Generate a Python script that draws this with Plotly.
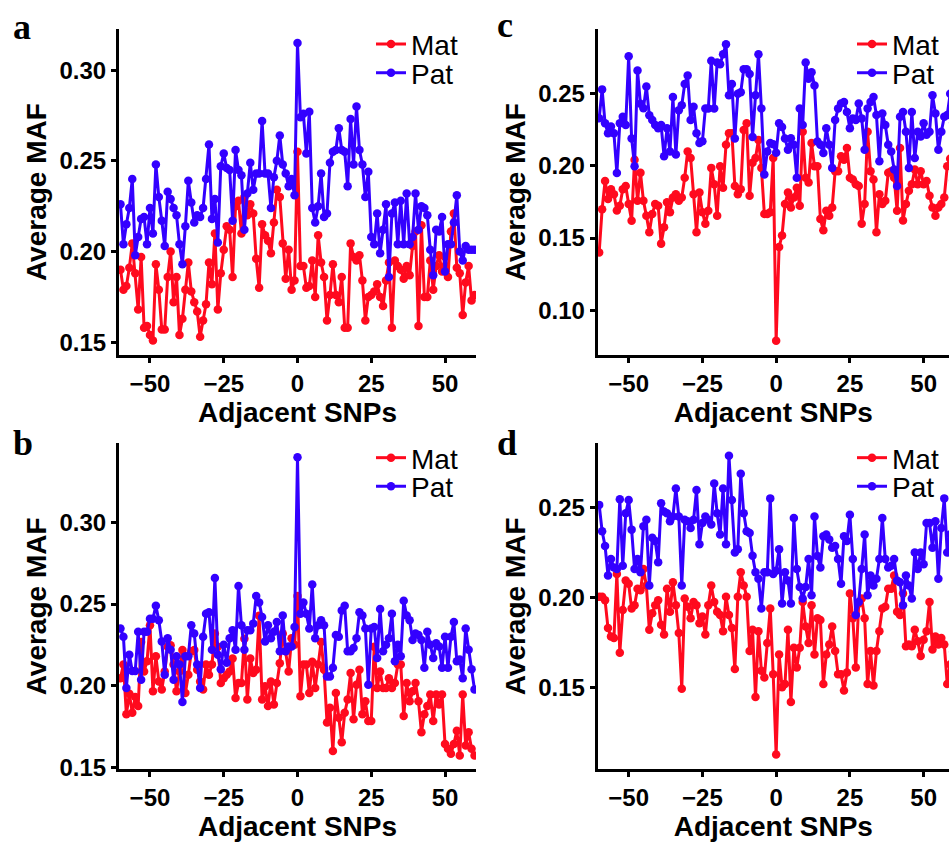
import plotly.graph_objects as go

# adjacent SNP offsets shared by every panel
snp = list(range(-60, 61))

# panel a
a_mat = [0.190, 0.179, 0.181, 0.191, 0.2045, 0.188, 0.168, 0.197, 0.158, 0.159,
         0.154, 0.151, 0.193, 0.179, 0.157, 0.157, 0.186, 0.200, 0.172, 0.186,
         0.154, 0.163, 0.179, 0.194, 0.178, 0.172, 0.167, 0.153, 0.162, 0.171,
         0.194, 0.182, 0.210, 0.168, 0.188, 0.201, 0.214, 0.212, 0.186, 0.225,
         0.228, 0.210, 0.230, 0.220, 0.226, 0.221, 0.196, 0.180, 0.215, 0.209,
         0.206, 0.199, 0.216, 0.234, 0.230, 0.2045, 0.185, 0.201, 0.179, 0.184,
         0.255,
         0.192, 0.192, 0.180, 0.181, 0.195, 0.175, 0.209, 0.194, 0.186, 0.162,
         0.176, 0.193, 0.176, 0.172, 0.186, 0.158, 0.158, 0.2045, 0.197, 0.195,
         0.198, 0.184, 0.162, 0.175, 0.176, 0.178, 0.182, 0.175, 0.170, 0.184,
         0.194, 0.158, 0.195, 0.192, 0.190, 0.185, 0.192, 0.187, 0.203, 0.211,
         0.159, 0.2145, 0.175, 0.175, 0.195, 0.179, 0.192, 0.198, 0.189, 0.197,
         0.186, 0.211, 0.221, 0.191, 0.188, 0.165, 0.183, 0.192, 0.173, 0.176]
a_pat = [0.226, 0.204, 0.215, 0.224, 0.240, 0.198, 0.208, 0.218, 0.219, 0.204,
         0.224, 0.210, 0.248, 0.230, 0.217, 0.203, 0.233, 0.229, 0.224, 0.220,
         0.204, 0.193, 0.214, 0.239, 0.227, 0.216, 0.220, 0.219, 0.224, 0.240,
         0.259, 0.218, 0.229, 0.205, 0.247, 0.254, 0.246, 0.245, 0.217, 0.256,
         0.245, 0.242, 0.212, 0.232, 0.249, 0.234, 0.243, 0.243, 0.272, 0.243,
         0.243, 0.224, 0.241, 0.250, 0.264, 0.248, 0.243, 0.236, 0.240, 0.231,
         0.315,
         0.274, 0.276, 0.254, 0.277, 0.224, 0.216, 0.225, 0.243, 0.219, 0.221,
         0.249, 0.255, 0.256, 0.268, 0.256, 0.255, 0.236, 0.273, 0.248, 0.280,
         0.256, 0.248, 0.230, 0.244, 0.208, 0.204, 0.221, 0.199, 0.212, 0.226,
         0.186, 0.221, 0.227, 0.204, 0.228, 0.204, 0.232, 0.204, 0.208, 0.232,
         0.212, 0.225, 0.224, 0.220, 0.201, 0.187, 0.212, 0.211, 0.219, 0.189,
         0.204, 0.204, 0.216, 0.231, 0.200, 0.195, 0.203, 0.201, 0.201, 0.201]

# panel b
b_mat = [0.2046, 0.213, 0.1824, 0.195, 0.1834, 0.193, 0.1875, 0.2268, 0.2087, 0.215,
         0.237, 0.1965, 0.218, 0.2026, 0.1976, 0.2087, 0.2238, 0.2248, 0.213, 0.1965,
         0.2087, 0.2218, 0.1955, 0.2066, 0.221, 0.2218, 0.2097, 0.2026, 0.1976, 0.213,
         0.2066, 0.213, 0.232, 0.2238, 0.2016, 0.2046, 0.2066, 0.2087, 0.2167, 0.1925,
         0.2016, 0.2016, 0.2288, 0.1915, 0.2167, 0.2077, 0.2097, 0.2429, 0.1915, 0.1996,
         0.1875, 0.2026, 0.1885, 0.2016, 0.2137, 0.232, 0.221, 0.2087, 0.229, 0.225,
         0.255,
         0.1935, 0.213, 0.213, 0.1955, 0.2147, 0.1986, 0.213, 0.2268, 0.2097, 0.1774,
         0.1865, 0.160, 0.1955, 0.1804, 0.1653, 0.1834, 0.1915, 0.2077, 0.1794, 0.2006,
         0.2097, 0.1824, 0.1905, 0.1784, 0.1784, 0.2238, 0.1986, 0.2087, 0.1986, 0.1986,
         0.2046, 0.1986, 0.2016, 0.213, 0.213, 0.1814, 0.2016, 0.1905, 0.1965, 0.2016,
         0.1905, 0.1714, 0.1824, 0.1875, 0.1945, 0.1784, 0.1945, 0.1885, 0.1945, 0.1643,
         0.1613, 0.1582, 0.1643, 0.1723, 0.1572, 0.1945, 0.1633, 0.1714, 0.1613, 0.1572]
b_pat = [0.235, 0.230, 0.1986, 0.219, 0.209, 0.209, 0.233, 0.2036, 0.233, 0.233,
         0.241, 0.241, 0.249, 0.240, 0.227, 0.2066, 0.229, 0.222, 0.2036, 0.218,
         0.213, 0.190, 0.218, 0.218, 0.237, 0.232, 0.213, 0.1986, 0.230, 0.244,
         0.245, 0.222, 0.266, 0.219, 0.210, 0.225, 0.214, 0.229, 0.234, 0.222,
         0.261, 0.237, 0.222, 0.234, 0.234, 0.238, 0.255, 0.251, 0.242, 0.227,
         0.237, 0.229, 0.233, 0.239, 0.221, 0.243, 0.221, 0.224, 0.224, 0.236,
         0.340,
         0.244, 0.251, 0.244, 0.235, 0.262, 0.229, 0.237, 0.240, 0.237, 0.2056,
         0.2056, 0.211, 0.231, 0.230, 0.246, 0.249, 0.221, 0.221, 0.223, 0.229,
         0.245, 0.243, 0.235, 0.2006, 0.235, 0.236, 0.217, 0.247, 0.221, 0.225,
         0.229, 0.244, 0.215, 0.225, 0.218, 0.252, 0.243, 0.240, 0.228, 0.232,
         0.231, 0.228, 0.211, 0.233, 0.225, 0.217, 0.226, 0.224, 0.211, 0.230,
         0.211, 0.230, 0.239, 0.215, 0.216, 0.2046, 0.235, 0.222, 0.210, 0.1976]

# panel c
c_mat = [0.140, 0.170, 0.1895, 0.177, 0.1838, 0.1804, 0.169, 0.1724, 0.1838, 0.186,
         0.1735, 0.162, 0.2043, 0.1758, 0.1952, 0.1758, 0.1655, 0.154, 0.1667, 0.1735,
         0.1724, 0.1461, 0.1575, 0.1747, 0.1678, 0.1781, 0.1804, 0.1758, 0.1781, 0.1918,
         0.210, 0.2055, 0.1804, 0.154, 0.1815, 0.1678, 0.1598, 0.1689, 0.1986, 0.1872,
         0.1655, 0.1998, 0.1849, 0.2146, 0.2226, 0.2226, 0.1861, 0.1804, 0.1838, 0.2249,
         0.2295, 0.1792, 0.2021, 0.2055, 0.218, 0.1986, 0.1667, 0.1667, 0.1678, 0.2055,
         0.0788,
         0.1438, 0.1518, 0.1735, 0.1815, 0.1712, 0.1781, 0.1849, 0.1724, 0.2237, 0.1918,
         0.1884, 0.2158, 0.1998, 0.1998, 0.1632, 0.1553, 0.1689, 0.1655, 0.1712, 0.1963,
         0.1963, 0.2066, 0.2043, 0.2123, 0.1918, 0.1906, 0.1872, 0.1861, 0.1598, 0.1735,
         0.2237, 0.1963, 0.1906, 0.154, 0.1804, 0.1735, 0.1758, 0.1952, 0.1963, 0.1918,
         0.1689, 0.2123, 0.1621, 0.1735, 0.1827, 0.1872, 0.1975, 0.1872, 0.1963, 0.1872,
         0.1895, 0.1792, 0.1712, 0.1655, 0.1712, 0.1735, 0.1781, 0.1998, 0.205, 0.190]
c_pat = [0.233, 0.253, 0.2295, 0.2226, 0.2272, 0.2226, 0.195, 0.2295, 0.234, 0.2283,
         0.276, 0.219, 0.1998, 0.266, 0.243, 0.240, 0.255, 0.235, 0.2317, 0.2283,
         0.226, 0.2283, 0.2066, 0.226, 0.210, 0.2477, 0.2078, 0.2386, 0.242, 0.2568,
         0.2626, 0.2317, 0.241, 0.2226, 0.2158, 0.217, 0.2397, 0.2397, 0.2728, 0.2397,
         0.2717, 0.2705, 0.2774, 0.2842, 0.249, 0.2568, 0.219, 0.250, 0.251, 0.267,
         0.267, 0.2637, 0.220, 0.249, 0.2774, 0.2397, 0.194, 0.210, 0.2158, 0.215,
         0.209,
         0.2295, 0.227, 0.219, 0.2112, 0.2192, 0.2146, 0.1918, 0.2397, 0.2283, 0.2717,
         0.2603, 0.2648, 0.2557, 0.2169, 0.2146, 0.2089, 0.226, 0.2146, 0.1986, 0.2317,
         0.2397, 0.2432, 0.2443, 0.2374, 0.226, 0.2329, 0.2317, 0.2432, 0.2329, 0.2112,
         0.2397, 0.2443, 0.2477, 0.2352, 0.2032, 0.2363, 0.2283, 0.2146, 0.210, 0.1975,
         0.1861, 0.234, 0.2374, 0.2237, 0.1986, 0.2374, 0.2055, 0.2237, 0.2203, 0.2295,
         0.2215, 0.2237, 0.2489, 0.2363, 0.2112, 0.2237, 0.234, 0.2352, 0.250, 0.230]

# panel d
d_mat = [0.2004, 0.2004, 0.1985, 0.1831, 0.1785, 0.1776, 0.2131, 0.1695, 0.1931, 0.2095,
         0.2076, 0.194, 0.1958, 0.2049, 0.204, 0.2158, 0.2067, 0.1822, 0.1913, 0.1958,
         0.1985, 0.1849, 0.1795, 0.2049, 0.1922, 0.2085, 0.1958, 0.1804, 0.1495, 0.1995,
         0.1949, 0.1885, 0.1976, 0.1958, 0.1858, 0.1895, 0.1795, 0.1958, 0.2067, 0.1976,
         0.1922, 0.1904, 0.1813, 0.2004, 0.1904, 0.1831, 0.1604, 0.2004, 0.214, 0.2067,
         0.2004, 0.1704, 0.1822, 0.1449, 0.1813, 0.1595, 0.1558, 0.1749, 0.194, 0.1576,
         0.1131,
         0.1685, 0.1504, 0.1522, 0.1822, 0.1422, 0.1722, 0.1613, 0.1722, 0.1976, 0.184,
         0.1749, 0.1958, 0.1685, 0.1885, 0.1876, 0.1522, 0.1685, 0.174, 0.184, 0.1704,
         0.1576, 0.1576, 0.1485, 0.1585, 0.2022, 0.1885, 0.1613, 0.1967, 0.1995, 0.1885,
         0.1522, 0.1704, 0.1513, 0.1704, 0.1813, 0.194, 0.1949, 0.2049, 0.2049, 0.2122,
         0.1922, 0.1904, 0.2022, 0.1731, 0.174, 0.1731, 0.1822, 0.1758, 0.1676, 0.1767,
         0.1813, 0.1976, 0.1713, 0.1785, 0.174, 0.1776, 0.174, 0.1522, 0.163, 0.170]
d_pat = [0.2513, 0.2367, 0.2285, 0.2122, 0.2213, 0.2167, 0.2158, 0.2544, 0.2176, 0.2467,
         0.254, 0.2376, 0.2158, 0.2213, 0.214, 0.2395, 0.2431, 0.2067, 0.2331, 0.2313,
         0.2195, 0.2522, 0.2476, 0.2467, 0.2422, 0.2449, 0.2604, 0.2449, 0.2067, 0.2431,
         0.2422, 0.2385, 0.2431, 0.2595, 0.2295, 0.2413, 0.2449, 0.2431, 0.2404, 0.2631,
         0.2467, 0.2349, 0.2604, 0.2295, 0.2785, 0.254, 0.2249, 0.2267, 0.2685, 0.2467,
         0.2367, 0.2358, 0.2231, 0.214, 0.2104, 0.194, 0.214, 0.214, 0.2549, 0.2131,
         0.2149,
         0.2267, 0.1967, 0.214, 0.2095, 0.1967, 0.244, 0.2158, 0.2058, 0.1995, 0.2058,
         0.2213, 0.2013, 0.2449, 0.223, 0.2167, 0.234, 0.2349, 0.2322, 0.2276, 0.2285,
         0.2213, 0.2076, 0.234, 0.2313, 0.2458, 0.2213, 0.1904, 0.1976, 0.2158, 0.2349,
         0.2013, 0.2122, 0.2067, 0.2104, 0.2213, 0.244, 0.2213, 0.2167, 0.2176, 0.2213,
         0.2095, 0.2085, 0.1958, 0.2122, 0.2067, 0.1995, 0.2249, 0.2158, 0.2249, 0.2185,
         0.2413, 0.2413, 0.2276, 0.2422, 0.2104, 0.2385, 0.2549, 0.2249, 0.235, 0.230]

RED = "#FF0A1E"
BLUE = "#3300FF"
W, H = 949, 846
SANS = "Liberation Sans, Arial, sans-serif"

fig = go.Figure()

panels = [
    ("x", "y", a_mat, a_pat, "legend", "legend2"),
    ("x2", "y2", b_mat, b_pat, "legend3", "legend4"),
    ("x3", "y3", c_mat, c_pat, "legend5", "legend6"),
    ("x4", "y4", d_mat, d_pat, "legend7", "legend8"),
]
for xa, ya, mat, pat, lg_mat, lg_pat in panels:
    fig.add_trace(go.Scatter(x=snp, y=mat, name="Mat", mode="lines+markers",
                             line=dict(color=RED, width=3),
                             marker=dict(color=RED, size=8.5),
                             xaxis=xa, yaxis=ya, legend=lg_mat))
    fig.add_trace(go.Scatter(x=snp, y=pat, name="Pat", mode="lines+markers",
                             line=dict(color=BLUE, width=3),
                             marker=dict(color=BLUE, size=8.5),
                             xaxis=xa, yaxis=ya, legend=lg_pat))

axis_style = dict(showline=True, linecolor="black", linewidth=3,
                  ticks="outside", ticklen=5, tickwidth=3, tickcolor="black",
                  showgrid=False, zeroline=False,
                  tickfont=dict(family=SANS, size=24, color="black", weight="bold"))
x_title = dict(text="Adjacent SNPs", font=dict(family=SANS, size=28, color="black", weight="bold"),
               standoff=6)
y_title = dict(text="Average MAF", font=dict(family=SANS, size=28, color="black", weight="bold"),
               standoff=5)

left_dom = [119 / W, 476 / W]
right_dom = [597.7 / W, 1.0]
top_dom = [1 - 360 / H, 1 - 29.3 / H]
bot_dom = [1 - 779.5 / H, 1 - 449.3 / H]

xticks = dict(tickvals=[-50, -25, 0, 25, 50])
yticks = dict(dtick=0.05, tick0=0, tickformat=".2f")

fig.update_layout(
    xaxis=dict(domain=left_dom, anchor="y", range=[-60.5, 60.5], title=x_title, **xticks, **axis_style),
    yaxis=dict(domain=top_dom, anchor="x", range=[0.1428, 0.3227], title=y_title, **yticks, **axis_style),
    xaxis2=dict(domain=left_dom, anchor="y2", range=[-60.5, 60.5], title=x_title, **xticks, **axis_style),
    yaxis2=dict(domain=bot_dom, anchor="x2", range=[0.1487, 0.3484], title=y_title, **yticks, **axis_style),
    xaxis3=dict(domain=right_dom, anchor="y3", range=[-60.5, 58.6], title=x_title, **xticks, **axis_style),
    yaxis3=dict(domain=top_dom, anchor="x3", range=[0.0687, 0.2949], title=y_title, **yticks, **axis_style),
    xaxis4=dict(domain=right_dom, anchor="y4", range=[-60.5, 58.6], title=x_title, **xticks, **axis_style),
    yaxis4=dict(domain=bot_dom, anchor="x4", range=[0.1049, 0.2853], title=y_title, **yticks, **axis_style),
)

# one legend box per entry so the two keys sit tightly like the original
leg_font = dict(family=SANS, size=28, color="black")
leg_pos = {
    "legend": (411, 45), "legend2": (411, 74),
    "legend3": (411, 464), "legend4": (411, 493),
    "legend5": (892, 45), "legend6": (892, 74),
    "legend7": (892, 464), "legend8": (892, 493),
}
for key, (tx, ty) in leg_pos.items():
    fig.update_layout({key: dict(x=(tx - 40) / W, y=1 - ty / H, xanchor="left", yanchor="middle",
                                 font=leg_font, bgcolor="rgba(0,0,0,0)", borderwidth=0)})

# panel letters
for letter, px, py in [("a", 11, 27), ("b", 11, 449), ("c", 495, 25), ("d", 495, 449)]:
    fig.add_annotation(text=letter, xref="paper", yref="paper", x=px / W, y=1 - py / H,
                       xanchor="left", yanchor="middle", showarrow=False,
                       font=dict(family="Liberation Serif, Times New Roman, serif", size=36,
                                 color="black", weight="bold"))

fig.update_layout(width=W, height=H, autosize=False,
                  margin=dict(l=0, r=0, t=0, b=0),
                  paper_bgcolor="white", plot_bgcolor="white",
                  showlegend=True)

# drop the browser's default 8px page margin so the figure fills the window
fig.write_html("out.html", config={"displayModeBar": False},
               post_script="document.body.style.margin='0px';")
